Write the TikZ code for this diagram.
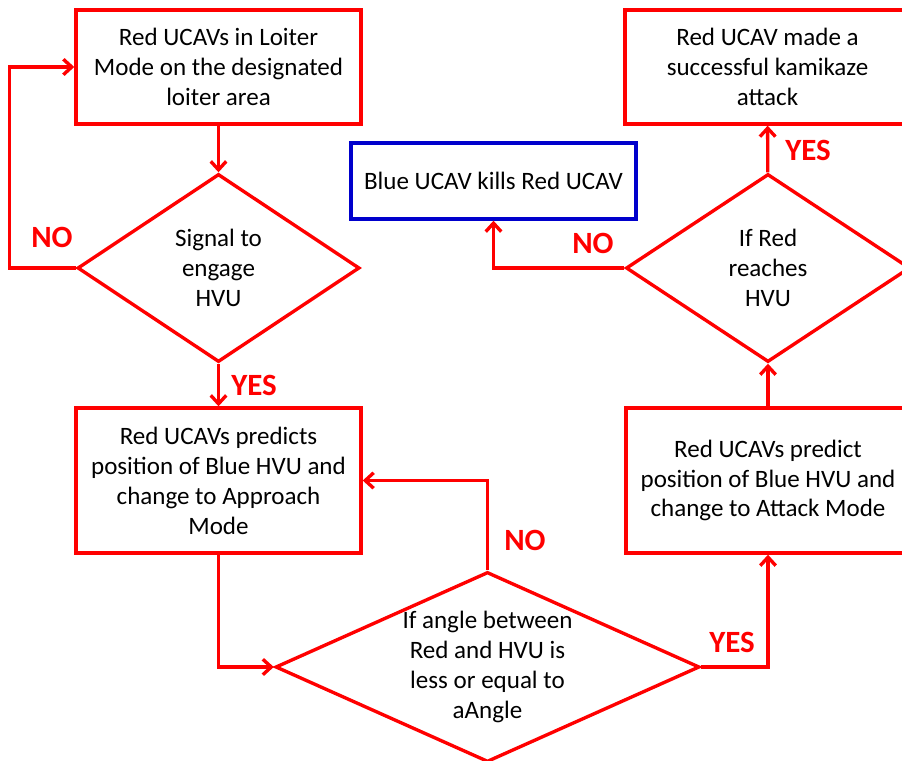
\documentclass[tikz,border=0pt]{standalone}
\usepackage{fontspec}
\setmainfont{Carlito}
\usetikzlibrary{shapes.geometric}
\usetikzlibrary{arrows.meta}

\begin{document}
\begin{tikzpicture}
[x=0.025cm,y=-0.025cm,
 every node/.style={font=\fontsize{17.8}{21.3}\selectfont,align=center},
 redbox/.style={draw=red,line width=2.4pt,rectangle,inner sep=0pt,minimum width=7.125cm},
 bluebox/.style={draw=blue!80!black,line width=2.4pt,rectangle,inner sep=0pt,minimum width=7.125cm,minimum height=1.9cm},
 dec/.style={draw=red,line width=2.4pt,diamond,inner sep=0pt},
 arr/.style={draw=red,line width=2.4pt,-{Straight Barb[length=6pt,width=11pt,line width=2.4pt]}},
 answer/.style={text=red,font=\fontsize{22}{24}\selectfont\bfseries}]
  \useasboundingbox (0,0) rectangle (902,761);
  \node[redbox,minimum height=2.85cm] (loiter) at (218.5,67) {Red UCAVs in Loiter\\Mode on the designated\\loiter area};
  \node[dec,minimum width=7.05cm,minimum height=4.7cm,label={center:Signal to\\engage\\HVU}] (signal) at (218.5,268) {};
  \node[redbox,minimum height=3.625cm] (approach) at (218.5,480.5) {Red UCAVs predicts\\position of Blue HVU and\\change to Approach\\Mode};
  \node[dec,minimum width=10.6cm,minimum height=4.75cm,label={center:If angle between\\Red and HVU is\\less or equal to\\aAngle}] (angle) at (487.5,667) {};
  \node[redbox,minimum height=3.625cm,minimum width=7.1cm] (attack) at (768,480.5) {Red UCAVs predict\\position of Blue HVU and\\change to Attack Mode};
  \node[dec,minimum width=7.1cm,minimum height=4.7cm,label={center:If Red\\reaches\\HVU}] (reaches) at (768,268) {};
  \node[redbox,minimum height=2.85cm] (success) at (767.5,67) {Red UCAV made a\\successful kamikaze\\attack};
  \node[bluebox] (blue) at (493.5,181) {Blue UCAV kills Red UCAV};
  \foreach \from/\to in {loiter/signal, signal/approach, attack/reaches, reaches/success}
    \draw[arr] (\from) -- (\to);
  \draw[arr] (signal.west) -- ++(-66,0) |- (loiter.west);
  \draw[arr] (approach.south) |- (angle.west);
  \draw[arr] (angle.north) |- (approach.east);
  \draw[arr] (angle.east) -| (attack.south);
  \draw[arr] (reaches.west) -| (blue.south);
  \node[answer] (no1) at (52,237) {NO};
  \node[answer] (yes1) at (254,385) {YES};
  \node[answer] (no2) at (593,243) {NO};
  \node[answer] (yes2) at (808,150) {YES};
  \node[answer] (no3) at (525,540) {NO};
  \node[answer] (yes3) at (732,642) {YES};
\end{tikzpicture}
\end{document}
